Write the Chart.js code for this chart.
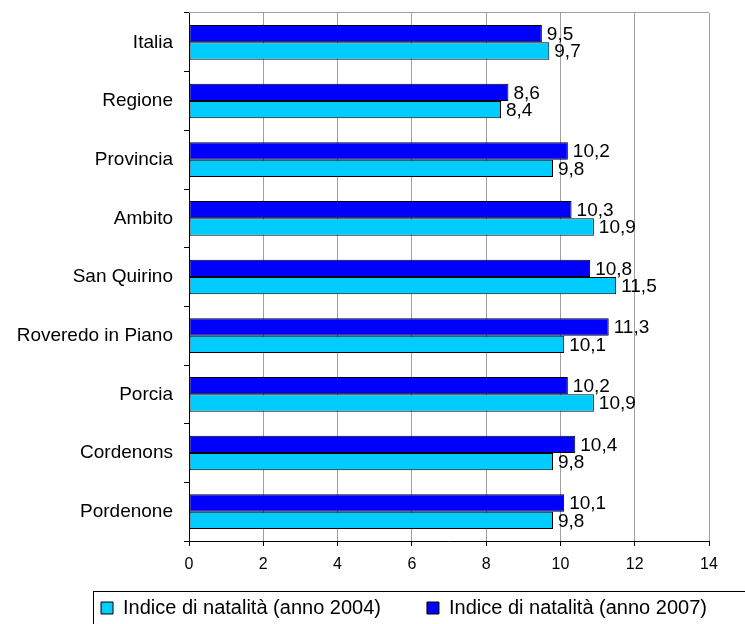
<!DOCTYPE html>
<html>
<head>
<meta charset="utf-8">
<script src="https://cdn.jsdelivr.net/npm/chart.js@4.4.0/dist/chart.umd.min.js"></script>
<style>
  body { margin: 0; background: #fff; }
  #wrap { width: 745px; height: 624px; }
</style>
</head>
<body>
<div id="wrap"><canvas id="myChart" width="745" height="624"></canvas></div>
<script>
// data
const categories = ['Italia', 'Regione', 'Provincia', 'Ambito', 'San Quirino',
                    'Roveredo in Piano', 'Porcia', 'Cordenons', 'Pordenone'];
const values2007 = [9.5, 8.6, 10.2, 10.3, 10.8, 11.3, 10.2, 10.4, 10.1];
const values2004 = [9.7, 8.4, 9.8, 10.9, 11.5, 10.1, 10.9, 9.8, 9.8];
const xTicks = [0, 2, 4, 6, 8, 10, 12, 14];

const FONT = "'Liberation Sans', Arial, sans-serif";

// value labels at the end of each bar, e.g. "9,5"
const barLabels = {
    id: 'barLabels',
    afterDatasetsDraw(chart) {
        const ctx = chart.ctx;
        ctx.save();
        ctx.font = '19px ' + FONT;
        ctx.fillStyle = '#000';
        ctx.textBaseline = 'middle';
        ctx.textAlign = 'left';
        chart.data.datasets.forEach((ds, i) => {
            chart.getDatasetMeta(i).data.forEach((bar, j) => {
                const txt = ds.data[j].toFixed(1).replace('.', ',');
                ctx.fillText(txt, bar.x + 5, bar.y + 1);
            });
        });
        ctx.restore();
    }
};

// top frame line of the plot and box round the legend
const frame = {
    id: 'frame',
    afterLayout(chart) {
        const lg = chart.legend;
        lg.left = 55;
        lg.right = chart.width + 200;   // keep both items on one row
        lg.width = lg.right - lg.left;
        lg.top = 552;
        lg.bottom = chart.height;
        lg.height = lg.bottom - lg.top;
    },
    beforeDatasetsDraw(chart) {
        const {ctx, chartArea} = chart;
        ctx.save();
        ctx.strokeStyle = '#a0a0a0';
        ctx.lineWidth = 1;
        ctx.beginPath();
        ctx.moveTo(chartArea.left, chartArea.top - 0.5);
        ctx.lineTo(chartArea.right, chartArea.top - 0.5);
        ctx.stroke();
        ctx.restore();
    },
    afterDraw(chart) {
        const ctx = chart.ctx;
        const box = chart.legend.legendHitBoxes[0];
        ctx.save();
        ctx.strokeStyle = '#000';
        ctx.lineWidth = 1;
        ctx.strokeRect(Math.round(box.left) - 7.5, Math.round(box.top) - 6.5, 760, 100);
        ctx.restore();
    }
};

const ctx = document.getElementById('myChart').getContext('2d');
new Chart(ctx, {
    type: 'bar',
    data: {
        labels: categories,
        datasets: [{
            label: 'Indice di natalità (anno 2007)',
            data: values2007,
            backgroundColor: '#0000ff',
            borderColor: '#000',
            borderWidth: 1,
            borderSkipped: false
        }, {
            label: 'Indice di natalità (anno 2004)',
            data: values2004,
            backgroundColor: '#00ccff',
            borderColor: '#000',
            borderWidth: 1,
            borderSkipped: false
        }]
    },
    options: {
        indexAxis: 'y',
        responsive: false,
        animation: false,
        devicePixelRatio: 1,
        categoryPercentage: 0.59,
        barPercentage: 1,
        layout: { padding: { top: 13, right: 36, left: 0, bottom: 0 } },
        scales: {
            x: {
                min: 0,
                max: 14,
                afterBuildTicks(scale) {
                    scale.ticks = xTicks.map(v => ({ value: v }));
                },
                afterFit(scale) { scale.height = 37; },
                grid: { color: '#a0a0a0', tickColor: '#000', tickLength: 5 },
                border: { color: '#000', width: 1 },
                ticks: {
                    color: '#000',
                    padding: 9,
                    font: { family: FONT, size: 16 }
                }
            },
            y: {
                afterFit(scale) {
                    scale.width = 189;
                    scale.paddingTop = 0;
                    scale.paddingBottom = 0;
                },
                grid: { drawOnChartArea: false, tickColor: '#000', tickLength: 5 },
                border: { color: '#000', width: 1 },
                ticks: {
                    color: '#000',
                    padding: 11,
                    font: { family: FONT, size: 19 }
                }
            }
        },
        plugins: {
            legend: {
                position: 'bottom',
                align: 'start',
                reverse: true,
                maxHeight: 46,
                labels: {
                    color: '#000',
                    boxWidth: 12,
                    boxHeight: 12,
                    padding: 46,
                    font: { family: FONT, size: 20 }
                }
            },
            tooltip: { enabled: false }
        }
    },
    plugins: [barLabels, frame]
});
</script>
</body>
</html>
